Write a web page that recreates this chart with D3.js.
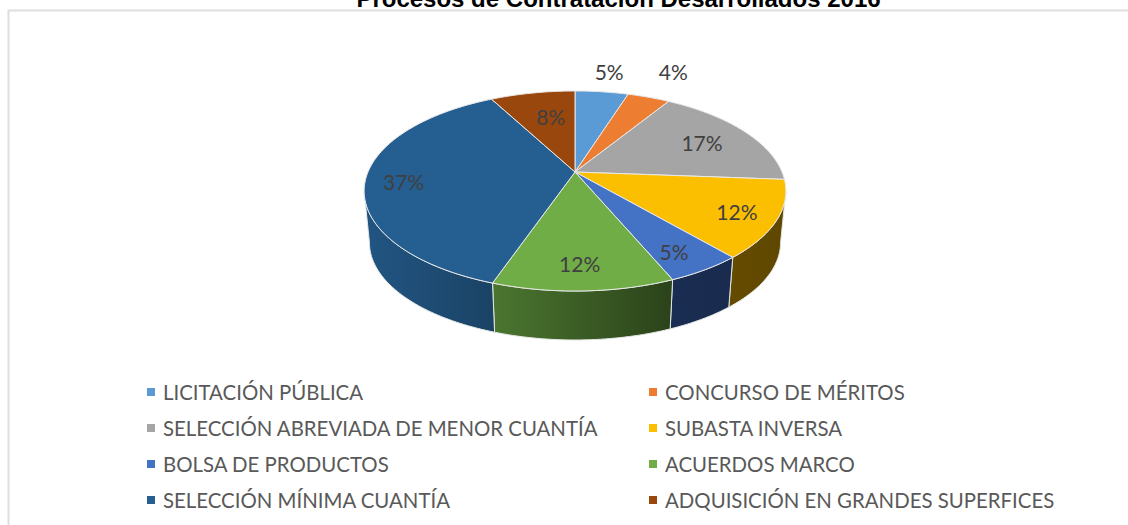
<!DOCTYPE html>
<meta charset="utf-8">
<style>
    html, body { margin: 0; padding: 0; background: #fff; overflow: hidden; }
    text { font-family: Lato, "Open Sans", sans-serif; }
</style>
<div id="graph"></div>
<script src="https://d3js.org/d3.v7.min.js"></script>
<script>
    // Chart data
    var chartTitle = "Procesos de Contratación Desarrollados 2016"
    var categories = ["LICITACIÓN PÚBLICA", "CONCURSO DE MÉRITOS", "SELECCIÓN ABREVIADA DE MENOR CUANTÍA", "SUBASTA INVERSA",
        "BOLSA DE PRODUCTOS", "ACUERDOS MARCO", "SELECCIÓN MÍNIMA CUANTÍA", "ADQUISICIÓN EN GRANDES SUPERFICES"]
    var shares = [4.9, 3.9, 17.4, 12.49, 4.95, 11.66, 36.9, 7.8]

    var topColors = ["#5B9BD5", "#ED7D31", "#A5A5A5", "#FCBF00", "#4472C4", "#70AD47", "#255E91", "#9A470E"]
    var wallLeft = ["#5B9BD5", "#ED7D31", "#A5A5A5", "#654B00", "#1A2D52", "#4B762F", "#225583", "#9E480E"]
    var wallRight = ["#5B9BD5", "#ED7D31", "#A5A5A5", "#5F4700", "#192B4E", "#2B421A", "#1A4365", "#9E480E"]

    // how far along the radius each label sits (1 = rim), plus a small hand nudge in px
    var labelReach = [1.3, 1.4, 0.72, 0.82, 0.84, 0.82, 0.82, 0.65]
    var labelNudge = [[1, 0], [1, -1], [2, 1], [-1, 2], [-7, 1], [-2, -1], [0, 4], [5, 0]]

    var width = 1128, height = 525

    var svg = d3.select("#graph").append("svg")
        .attr("width", width)
        .attr("height", height)
        .style("display", "block")

    // frame behind the chart
    svg.append("path")
        .attr("d", "M8.5,525V10.5H1128")
        .attr("fill", "none")
        .attr("stroke", "#dedede")
        .attr("stroke-width", 2)

    // the reference crops the top of the title at the page edge
    svg.append("text")
        .attr("x", 618.5)
        .attr("y", 7)
        .attr("text-anchor", "middle")
        .style("font-family", "'Liberation Sans', Arial, sans-serif")
        .style("font-weight", "bold")
        .style("font-size", "24px")
        .text(chartTitle)

    // The disc is seen in perspective, so the apex is not the centre of the ellipse
    var cx = 575, cy = 172, A = 207, B = 96.4, tilt = -0.19

    function project(angle, r) {
        var u = r * Math.sin(angle), v = -r * Math.cos(angle)
        var den = 1 + tilt * v
        return [cx + A * u / den, cy + B * v / den]
    }

    // bottom of the wall: rim point pulled towards a far vanishing point
    var shrink = 0.975, vanishY = 2250
    function drop(p) {
        return [cx + shrink * (p[0] - cx), vanishY + shrink * (p[1] - vanishY)]
    }

    function arcPoints(a0, a1) {
        var n = Math.max(2, Math.ceil(Math.abs(a1 - a0) / 0.02))
        return d3.range(n + 1).map(function (i) {
            return project(a0 + (a1 - a0) * i / n, 1)
        })
    }

    var pie = d3.pie().sort(null).value(function (d) { return d })
    var slices = pie(shares)
    var line = d3.line()

    var defs = svg.append("defs")
    var wallFrom = 101 * Math.PI / 180, wallTo = 259 * Math.PI / 180

    // walls, only the part of the rim that faces us
    slices.forEach(function (s, i) {
        var a0 = Math.max(s.startAngle, wallFrom), a1 = Math.min(s.endAngle, wallTo)
        if (a1 <= a0) return
        var rim = arcPoints(a0, a1)
        var gradient = defs.append("linearGradient")
            .attr("id", "wall" + i)
            .attr("gradientUnits", "userSpaceOnUse")
            .attr("x1", rim[0][0]).attr("x2", rim[rim.length - 1][0])
            .attr("y1", 0).attr("y2", 0)
        // rim runs right to left, so the first stop is the right hand colour
        gradient.append("stop").attr("offset", 0).attr("stop-color", wallRight[i])
        gradient.append("stop").attr("offset", 1).attr("stop-color", wallLeft[i])

        var outline = rim.concat(rim.slice().reverse().map(drop))
        svg.append("path")
            .attr("d", line(outline) + "Z")
            .attr("fill", "url(#wall" + i + ")")
            .attr("stroke", "#e4e8e4")
            .attr("stroke-width", 1)
    })

    // top of the disc
    slices.forEach(function (s, i) {
        svg.append("path")
            .attr("d", line([[cx, cy]].concat(arcPoints(s.startAngle, s.endAngle))) + "Z")
            .attr("fill", topColors[i])
            .attr("stroke", "#e8e8e8")
            .attr("stroke-width", 1)
            .attr("stroke-linejoin", "round")
    })

    slices.forEach(function (s, i) {
        var p = project((s.startAngle + s.endAngle) / 2, labelReach[i])
        svg.append("text")
            .attr("x", p[0] + labelNudge[i][0])
            .attr("y", p[1] + labelNudge[i][1])
            .attr("dy", "0.35em")
            .attr("text-anchor", "middle")
            .attr("fill", "#404040")
            .style("font-size", "21px")
            .text(Math.round(s.value) + "%")
    })

    // legend, two columns
    var legendX = d3.scalePoint().domain([0, 1]).range([147, 649])
    var legendY = d3.scalePoint().domain([0, 1, 2, 3]).range([392, 500])

    var legend = svg.selectAll("g.legend")
        .data(categories)
        .enter()
        .append("g")
        .attr("class", "legend")
        .attr("transform", function (d, i) {
            return "translate(" + legendX(i % 2) + "," + legendY(Math.floor(i / 2)) + ")"
        })

    legend.append("rect")
        .attr("x", 0)
        .attr("y", -4)
        .attr("width", 8)
        .attr("height", 8)
        .attr("fill", function (d, i) { return topColors[i] })

    legend.append("text")
        .attr("x", 16)
        .attr("y", 1)
        .attr("dy", "0.35em")
        .attr("fill", "#595959")
        .style("font-size", "20.4px")
        .text(function (d) { return d })
</script>
